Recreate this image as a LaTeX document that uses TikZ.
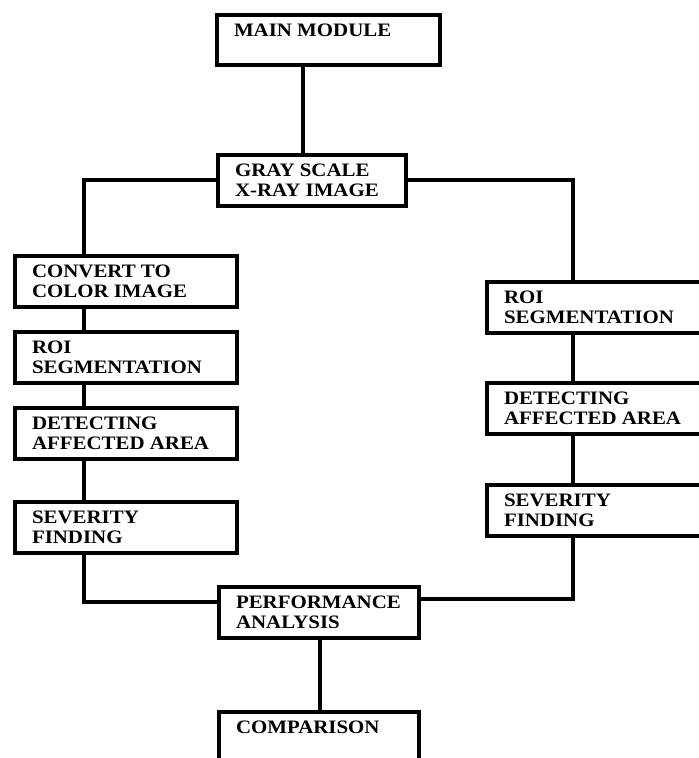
\documentclass[tikz,border=0pt]{standalone}
\usepackage{fontspec}
\setmainfont{Liberation Serif}[FakeStretch=1.1]
\usetikzlibrary{calc}
\tikzset{
  blk/.style={draw, line width=3.3pt, rectangle, inner sep=0pt, outer sep=0pt},
  lbl/.style={inner sep=0pt, outer sep=0pt, anchor=base west,
              font=\fontsize{19}{20}\selectfont\bfseries},
  wire/.style={line width=3.3pt, line join=miter}
}
\newcommand{\mkbox}[7]{%
  \node[blk, minimum width={#4-#2}, minimum height={#5-#3}] (#1) at ({(#2+#4)/2},{(#3+#5)/2}) {};
  \node[lbl] (#1T) at ($(#1.north west)+(17,21)$) {\vtop{\hbox{#6}\hbox{#7}}};
}
\begin{document}
\begin{tikzpicture}[x=1pt,y=-1pt]
\useasboundingbox (0,0) rectangle (699,758);
\begin{scope}
\clip (0,0) rectangle (699,758);
\mkbox{main}{217}{15}{440}{65}{MAIN MODULE}{}
\mkbox{gray}{218}{155}{406}{206}{GRAY SCALE}{X-RAY IMAGE}
\mkbox{conv}{15}{256}{237}{307}{CONVERT TO}{COLOR IMAGE}
\mkbox{roiL}{15}{332}{237}{383}{ROI}{SEGMENTATION}
\mkbox{detL}{15}{408}{237}{459}{DETECTING}{AFFECTED AREA}
\mkbox{sevL}{15}{502}{237}{553}{SEVERITY}{FINDING}
\mkbox{roiR}{487}{282}{712}{333}{ROI}{SEGMENTATION}
\mkbox{detR}{487}{383}{712}{434}{DETECTING}{AFFECTED AREA}
\mkbox{sevR}{487}{485}{712}{536}{SEVERITY}{FINDING}
\mkbox{perf}{219}{587}{419}{638}{PERFORMANCE}{ANALYSIS}
\mkbox{comp}{219}{712}{419}{790}{COMPARISON}{}

\coordinate (xm) at (303,0);
\coordinate (xl) at (84,0);
\coordinate (xr) at (573,0);
\coordinate (xp) at (320,0);
\coordinate (yg) at (0,180);
\coordinate (ybl) at (0,602);
\coordinate (ybr) at (0,599);

\draw[wire] (main.south -| xm) -- (gray.north -| xm);
\draw[wire] (gray.west |- yg) -| (conv.north -| xl);
\draw[wire] (gray.east |- yg) -| (roiR.north -| xr);
\draw[wire] (conv.south -| xl) -- (roiL.north -| xl);
\draw[wire] (roiL.south -| xl) -- (detL.north -| xl);
\draw[wire] (detL.south -| xl) -- (sevL.north -| xl);
\draw[wire] (sevL.south -| xl) |- (perf.west |- ybl);
\draw[wire] (roiR.south -| xr) -- (detR.north -| xr);
\draw[wire] (detR.south -| xr) -- (sevR.north -| xr);
\draw[wire] (sevR.south -| xr) |- (perf.east |- ybr);
\draw[wire] (perf.south -| xp) -- (comp.north -| xp);
\end{scope}
\end{tikzpicture}
\end{document}
